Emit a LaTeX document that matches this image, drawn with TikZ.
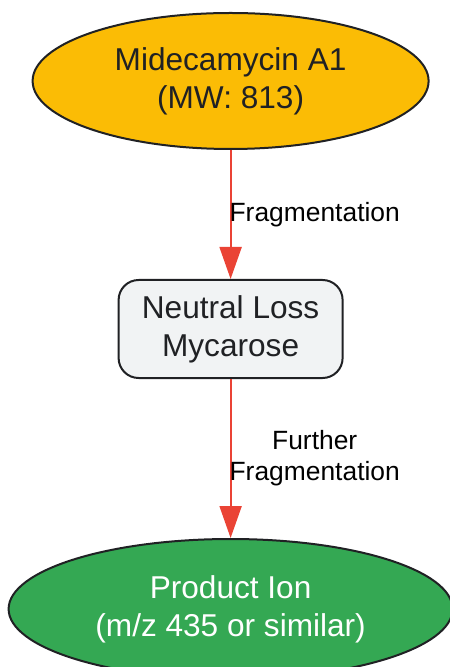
\documentclass[tikz,border=0pt]{standalone}
\usepackage{fontspec}
\setmainfont{Liberation Sans}
\usepackage{tikz}
\usetikzlibrary{arrows.meta}
\usetikzlibrary{shapes.geometric}
\usetikzlibrary{positioning}
\definecolor{ink}{RGB}{32, 33, 36}
\definecolor{amber}{RGB}{251, 188, 5}
\definecolor{leaf}{RGB}{52, 168, 83}
\definecolor{flame}{RGB}{234, 67, 53}
\definecolor{mist}{RGB}{241, 243, 244}

\begin{document}
\begin{tikzpicture}[
    every node/.style={font=\fontsize{15.8}{19}\selectfont, align=center},
    precursor/.style={ellipse, draw=ink, line width=1pt, fill=amber, text=ink,
      minimum width=198pt, minimum height=68pt, inner sep=0pt},
    loss/.style={rectangle, rounded corners=10pt, draw=ink, line width=1pt, fill=mist,
      text=ink, minimum width=112pt, minimum height=49pt, inner sep=0pt},
    product/.style={ellipse, draw=ink, line width=1pt, fill=leaf, text=white,
      minimum width=222pt, minimum height=70pt, inner sep=0pt},
    fragarrow/.style={-{Triangle[length=16pt,width=11pt]}, draw=flame, fill=flame,
      line width=1pt},
    steplabel/.style={font=\fontsize{13.2}{15.5}\selectfont, text=black,
      anchor=west, inner sep=0pt, xshift=-1pt}
  ]
  \useasboundingbox (0,0) rectangle (224.5pt,-333.5pt);
  \node[precursor] (mide) at (115.3pt,-40.5pt) {Midecamycin A1\\(MW: 813)};
  \node[loss, below=64.5pt of mide] (myc) {Neutral Loss\\Mycarose};
  \node[product, below=79.5pt of myc] (ion) {Product Ion\\(m/z 435 or similar)};
  \path
    (mide) edge [fragarrow] node [steplabel, midway] {Fragmentation} (myc)
    (myc) edge [fragarrow] node [steplabel, midway] {Further\\Fragmentation} (ion);
\end{tikzpicture}
\end{document}
